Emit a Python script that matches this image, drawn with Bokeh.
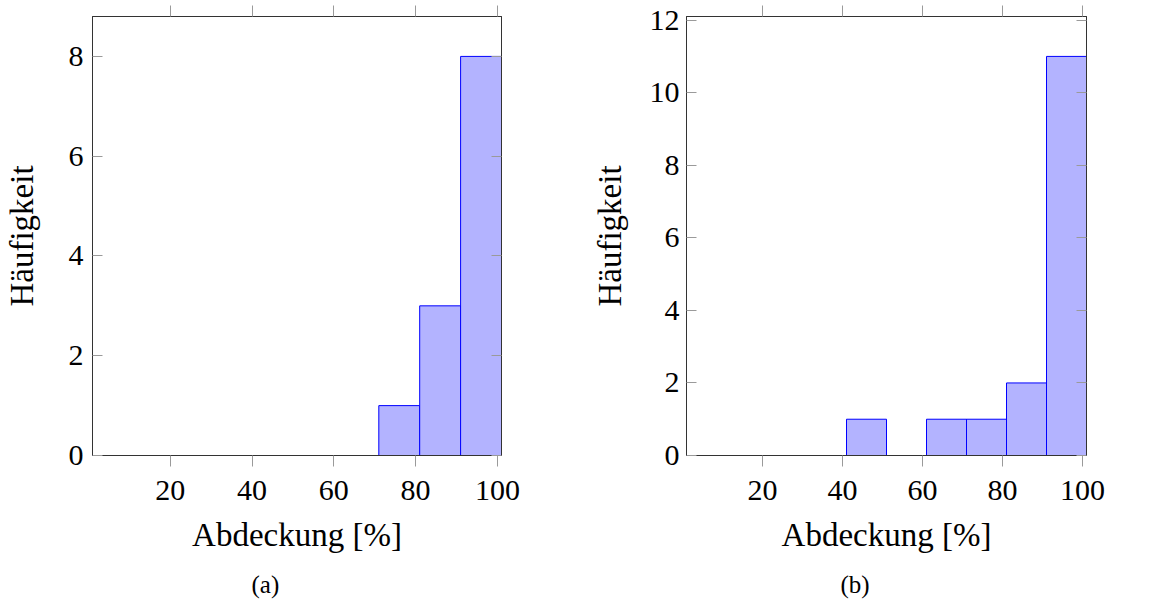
from bokeh.plotting import figure
from bokeh.models import LinearAxis, FixedTicker, Range1d, Title, ColumnDataSource
from bokeh.layouts import row
from bokeh.embed import file_html
from bokeh.resources import INLINE

# ---- data ----
bin_left = [1, 11, 21, 31, 41, 51, 61, 71, 81, 91]
bin_right = [11, 21, 31, 41, 51, 61, 71, 81, 91, 101]
counts_a = [0, 0, 0, 0, 0, 0, 0, 1, 3, 8]
counts_b = [0, 0, 0, 0, 1, 0, 1, 1, 2, 11]
x_ticks = [20, 40, 60, 80, 100]
y_ticks_a = [0, 2, 4, 6, 8]
y_ticks_b = [0, 2, 4, 6, 8, 10, 12]
x_label = "Abdeckung [%]"
y_label = "Häufigkeit"
captions = ["(a)", "(b)"]

FONT = "Liberation Serif"
TICK_COL = "#9a9a9a"
FRAME_COL = "#333333"


def make_panel(counts, yticks, ymax, frame_w, border_left, border_right,
               ytick_standoff, ylab_standoff, caption, cap_offset):
    src = ColumnDataSource(dict(left=bin_left, right=bin_right, top=counts,
                                bottom=[0] * len(counts)))
    p = figure(frame_width=frame_w, frame_height=439,
               x_range=Range1d(bin_left[0], bin_right[-1]),
               y_range=Range1d(0, ymax),
               output_backend="svg", toolbar_location=None,
               x_axis_location=None, y_axis_location=None,
               min_border_left=border_left, min_border_right=border_right,
               min_border_top=16, min_border_bottom=0)
    p.outline_line_color = FRAME_COL
    p.outline_line_width = 1
    p.xgrid.visible = False
    p.ygrid.visible = False

    def style(ax, tin, tout, labels=True):
        ax.major_tick_in = tin
        ax.major_tick_out = tout
        ax.major_tick_line_color = TICK_COL
        ax.major_tick_line_width = 1
        ax.minor_tick_line_color = None
        ax.axis_line_color = FRAME_COL
        ax.axis_line_width = 1
        if labels:
            ax.major_label_text_font = FONT
            ax.major_label_text_font_size = "30px"
            ax.major_label_text_color = "black"
            ax.axis_label_text_font = FONT
            ax.axis_label_text_font_size = "33px"
            ax.axis_label_text_font_style = "normal"
            ax.axis_label_text_color = "black"
        else:
            ax.major_label_text_font_size = "1px"
            ax.major_label_text_color = None
            ax.major_label_standoff = 0

    xb = LinearAxis(ticker=FixedTicker(ticks=x_ticks), axis_label=x_label)
    style(xb, 0, 11)
    xb.major_label_standoff = 14
    xb.axis_label_standoff = 14
    p.add_layout(xb, "below")

    xt = LinearAxis(ticker=FixedTicker(ticks=x_ticks))
    style(xt, 0, 11, labels=False)
    p.add_layout(xt, "above")

    yl = LinearAxis(ticker=FixedTicker(ticks=yticks), axis_label=y_label)
    style(yl, 10, 0)
    yl.major_label_standoff = ytick_standoff
    yl.axis_label_standoff = ylab_standoff
    p.add_layout(yl, "left")

    yr = LinearAxis(ticker=FixedTicker(ticks=yticks))
    style(yr, 10, 0, labels=False)
    p.add_layout(yr, "right")

    p.quad(left="left", right="right", top="top", bottom="bottom", source=src,
           fill_color="#b3b3ff", line_color="#0000ff", line_width=1)
    p.segment(x0="left", y0="bottom", x1="right", y1="bottom", source=src,
              line_color="#0000ff", line_width=1.2)

    t = Title(text=caption, align="left", offset=cap_offset,
              text_font=FONT, text_font_size="25px", text_font_style="normal",
              text_color="black", standoff=26)
    p.add_layout(t, "below")
    return p


pa = make_panel(counts_a, y_ticks_a, 8.8, 409, 86, 25, 9, 26, captions[0], 159)
pb = make_panel(counts_b, y_ticks_b, 12.1, 400, 160, 30, 7, 19, captions[1], 154)

layout = row(pa, pb)
open("out.html", "w").write(file_html(layout, INLINE))
